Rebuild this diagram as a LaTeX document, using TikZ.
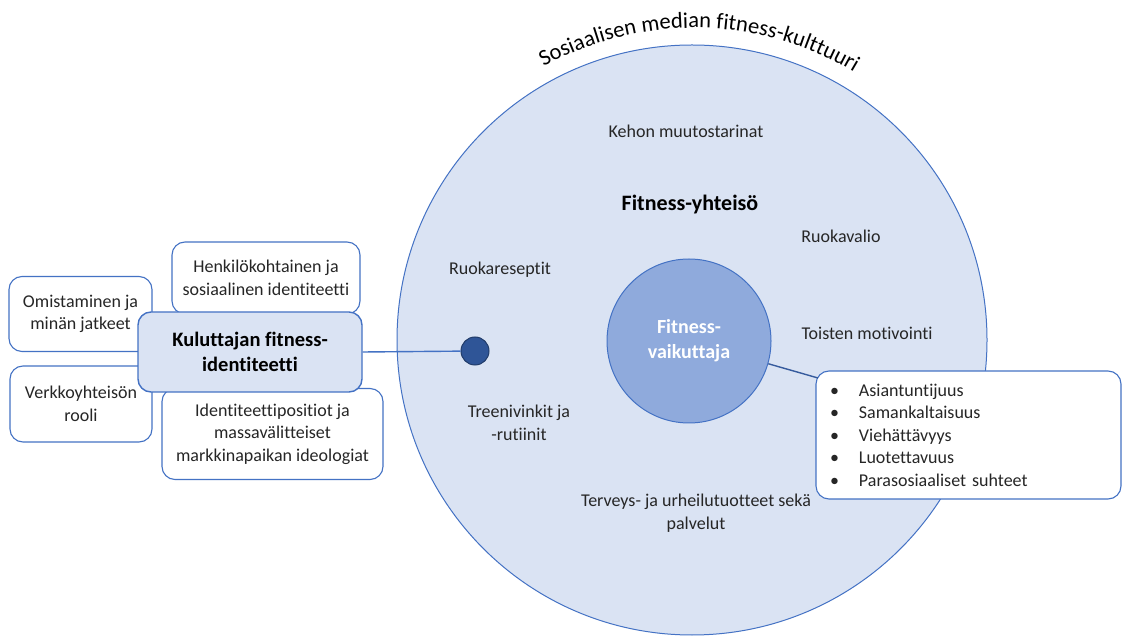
\documentclass[tikz,border=0pt]{standalone}
\usepackage{fontspec}
\setmainfont[Ligatures=NoCommon]{Carlito}
\usetikzlibrary{decorations.text}

\definecolor{ympyra}{HTML}{DAE3F3}
\definecolor{reuna}{HTML}{4472C4}
\definecolor{sisa}{HTML}{8FAADC}
\definecolor{piste}{HTML}{2F5597}
\definecolor{teksti}{HTML}{262626}

\begin{document}
\begin{tikzpicture}[x=1pt, y=1pt,
    laatikko/.style={draw=reuna, line width=1.1pt, rounded corners=13pt, fill=white,
        align=center, text=teksti, font=\fontsize{18}{22.5}\selectfont},
    paalaatikko/.style={laatikko, fill=ympyra, line width=1.4pt,
        font=\fontsize{20.5}{25}\selectfont\bfseries, text=black},
    sana/.style={align=center, text=teksti, font=\fontsize{18}{22.5}\selectfont}]
    \useasboundingbox[fill=white] (0,0) rectangle (1122,635);

    % kulttuuri ja yhteiso
    \node[circle, draw=reuna, line width=1pt, fill=ympyra, minimum size=590pt] (kulttuuri) at (692,295) {};
    \path[decorate, decoration={text along path, text align=center,
        text={|\fontsize{22.5}{26}\selectfont|Sosiaalisen median fitness-kulttuuri}}]
        (694,295) ++(148:312) arc[start angle=148, end angle=30, radius=312];

    \node[sana] (kehon) at (686,504) {Kehon muutostarinat};
    \node[sana, font=\fontsize{22}{26}\selectfont\bfseries, text=black] (yhteiso) at (690,430) {Fitness-yhteisö};
    \node[sana] (ruokavalio) at (841,399) {Ruokavalio};
    \node[sana] (reseptit) at (500,365) {Ruokareseptit};
    \node[sana] (motivointi) at (867,302) {Toisten motivointi};
    \node[sana] (treeni) at (519,212) {Treenivinkit ja\\-rutiinit};
    \node[sana] (tuotteet) at (696,122) {Terveys- ja urheilutuotteet sekä\\palvelut};

    \node[circle, draw=reuna, line width=1pt, fill=sisa, minimum size=164pt, align=center,
        text=white, font=\fontsize{20}{25}\selectfont\bfseries] (vaikuttaja) at (689,294) {Fitness-\\vaikuttaja};
    \node[circle, draw=piste!70!black, line width=1pt, fill=piste, minimum size=28pt] (piste) at (475,284) {};

    % ominaisuudet
    \node[laatikko, align=left, text width=285pt, inner xsep=10pt, minimum height=128pt] (ominaisuudet) at (968.5,200)
        {\hspace*{4pt}\textbullet\hspace{20pt}Asiantuntijuus\\
         \hspace*{4pt}\textbullet\hspace{20pt}Samankaltaisuus\\
         \hspace*{4pt}\textbullet\hspace{20pt}Viehättävyys\\
         \hspace*{4pt}\textbullet\hspace{20pt}Luotettavuus\\
         \hspace*{4pt}\textbullet\hspace{20pt}Parasosiaaliset suhteet};
    \coordinate (kulma) at (818,257);
    \draw[reuna!80!black, line width=1.4pt] (vaikuttaja) -- (kulma);

    % kuluttajan identiteetti
    \node[laatikko, minimum width=188pt, minimum height=72pt] (henkilo) at (266,357) {Henkilökohtainen ja\\sosiaalinen identiteetti};
    \node[laatikko, minimum width=143pt, minimum height=75pt] (omistaminen) at (80.5,321) {Omistaminen ja\\minän jatkeet};
    \node[laatikko, minimum width=142pt, minimum height=76pt] (verkko) at (81,231) {Verkkoyhteisön\\rooli};
    \node[laatikko, minimum width=221pt, minimum height=91pt] (positiot) at (272.5,201) {Identiteettipositiot ja\\massavälitteiset\\markkinapaikan ideologiat};
    \node[paalaatikko, minimum width=224pt, minimum height=80pt] (kuluttaja) at (250,283) {Kuluttajan fitness-\\identiteetti};
    \draw[reuna, line width=1.4pt] (kuluttaja.east) -- (piste);
\end{tikzpicture}
\end{document}
